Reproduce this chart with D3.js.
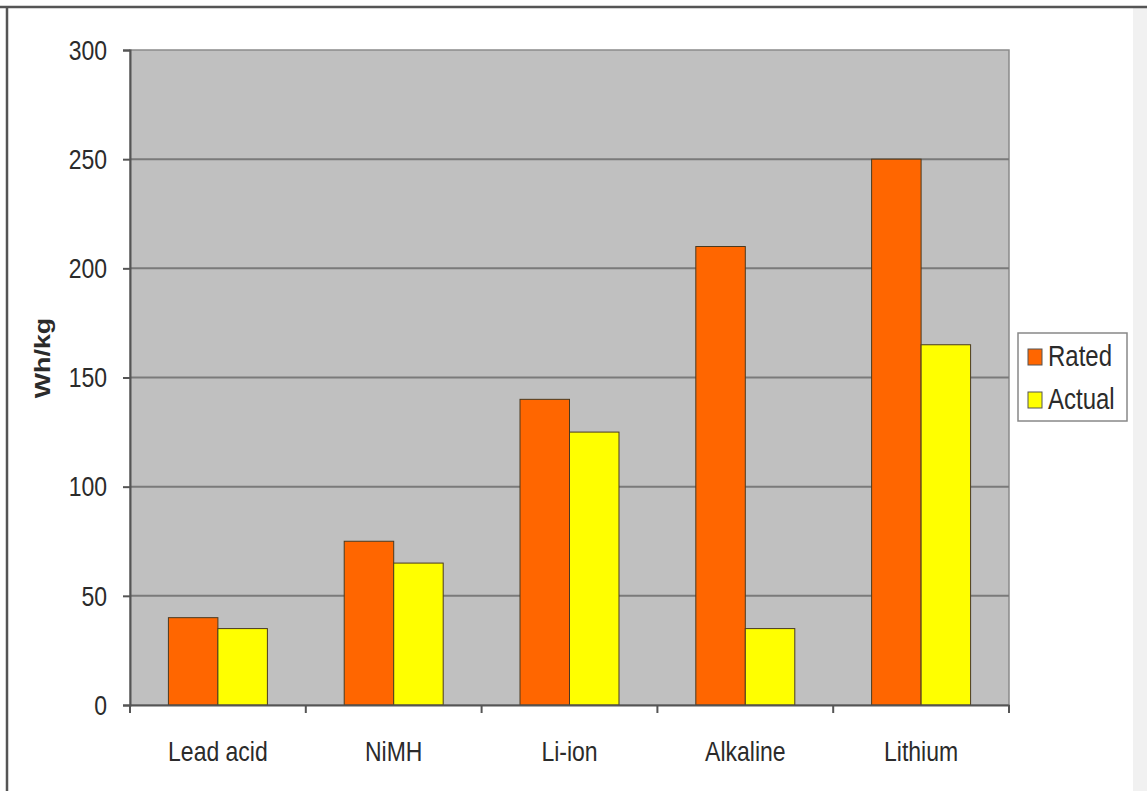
<!DOCTYPE html>
<html>
<head>
<meta charset="utf-8">
<script src="https://cdn.jsdelivr.net/npm/d3@7"></script>
<style>
  html, body { margin: 0; padding: 0; background: #ffffff; }
  svg { display: block; }
  text { font-family: Arial, "Liberation Sans", sans-serif; fill: #2b2b2b; }
</style>
</head>
<body>
<svg id="chart" width="1147" height="791"></svg>
<script>
// Energy density of battery chemistries
const categories = ["Lead acid", "NiMH", "Li-ion", "Alkaline", "Lithium"];
const seriesNames = ["Rated", "Actual"];
const ratedValues = [40, 75, 140, 210, 250];
const actualValues = [35, 65, 125, 35, 165];
const yTicks = [0, 50, 100, 150, 200, 250, 300];
const seriesColors = ["#ff6600", "#ffff00"];

const svg = d3.select("#chart");
const W = 1147, H = 791;
const plot = { left: 130, top: 50, right: 1009, bottom: 705 };
const ys = 1.22; // vertical stretch of lettering

// Page frame
svg.append("rect").attr("x", 1133).attr("y", 8).attr("width", W - 1133).attr("height", H - 8)
  .attr("fill", "#f1f1f1");
svg.append("line").attr("x1", 0).attr("x2", W).attr("y1", 7).attr("y2", 7)
  .attr("stroke", "#555").attr("stroke-width", 2.5);
svg.append("line").attr("x1", 7).attr("x2", 7).attr("y1", 6).attr("y2", H)
  .attr("stroke", "#555").attr("stroke-width", 2.5);

const x0 = d3.scaleBand().domain(categories).range([plot.left, plot.right]).paddingInner(0).paddingOuter(0);
const x1 = d3.scaleBand().domain(seriesNames).range([0, x0.bandwidth()]).paddingOuter(0.776).paddingInner(0);
const y = d3.scaleLinear().domain([0, 300]).range([plot.bottom, plot.top]);

// Plot background
svg.append("rect")
  .attr("x", plot.left).attr("y", plot.top)
  .attr("width", plot.right - plot.left).attr("height", plot.bottom - plot.top)
  .attr("fill", "#c0c0c0").attr("stroke", "#8a8a8a").attr("stroke-width", 1.5);

// Horizontal gridlines
svg.append("g").selectAll("line").data(yTicks.filter(d => d > 0 && d < 300)).join("line")
  .attr("x1", plot.left).attr("x2", plot.right)
  .attr("y1", d => y(d)).attr("y2", d => y(d))
  .attr("stroke", "#7a7a7a").attr("stroke-width", 2);

// Bars
const rows = categories.map((c, i) => ({ cat: c, vals: [ratedValues[i], actualValues[i]] }));
const groups = svg.append("g").selectAll("g").data(rows).join("g")
  .attr("transform", d => `translate(${x0(d.cat)},0)`);
groups.selectAll("rect").data(d => d.vals.map((v, j) => ({ key: seriesNames[j], v, j }))).join("rect")
  .attr("x", d => x1(d.key)).attr("width", x1.bandwidth())
  .attr("y", d => y(d.v)).attr("height", d => y(0) - y(d.v))
  .attr("fill", d => seriesColors[d.j])
  .attr("stroke", "#4a3a20").attr("stroke-width", 1);

// Y axis
const yAxis = svg.append("g").attr("transform", `translate(${plot.left},0)`)
  .call(d3.axisLeft(y).tickValues(yTicks).tickSize(7).tickPadding(16).tickFormat(d3.format("d")));
yAxis.select(".domain").attr("stroke", "#555").attr("stroke-width", 2);
yAxis.selectAll(".tick line").attr("stroke", "#555").attr("stroke-width", 2);
yAxis.selectAll(".tick text")
  .attr("font-size", 23).attr("fill", "#2b2b2b")
  .attr("dy", "0.33em")
  .attr("transform", `scale(1,${ys})`);

// X axis
const xAxis = svg.append("g").attr("transform", `translate(0,${plot.bottom})`)
  .call(d3.axisBottom(x0).tickSize(0).tickPadding(0));
xAxis.select(".domain").attr("stroke", "#555").attr("stroke-width", 2);
xAxis.selectAll(".tick text")
  .attr("font-size", 23).attr("fill", "#2b2b2b")
  .attr("y", 0).attr("dy", 0)
  .attr("transform", `translate(0,56) scale(1,${ys})`);
// Category boundary ticks
const boundaries = categories.map(c => x0(c)).concat([plot.right]);
svg.append("g").selectAll("line").data(boundaries).join("line")
  .attr("x1", d => d).attr("x2", d => d)
  .attr("y1", plot.bottom).attr("y2", plot.bottom + 8)
  .attr("stroke", "#555").attr("stroke-width", 2);

// Y axis title
svg.append("text")
  .attr("transform", `translate(50,358) rotate(-90) scale(${ys},1)`)
  .attr("text-anchor", "middle")
  .attr("font-size", 22).attr("font-weight", "bold").attr("fill", "#111")
  .text("Wh/kg");

// Legend
const legend = svg.append("g").attr("transform", "translate(1018,333)");
legend.append("rect").attr("width", 109).attr("height", 88)
  .attr("fill", "#ffffff").attr("stroke", "#888").attr("stroke-width", 1.5);
const items = legend.selectAll("g").data(seriesNames).join("g")
  .attr("transform", (d, i) => `translate(10,${16 + i * 43})`);
items.append("rect").attr("width", 14).attr("height", 16)
  .attr("fill", (d, i) => seriesColors[i]).attr("stroke", "#555").attr("stroke-width", 1);
items.append("text")
  .attr("transform", `translate(20,17) scale(1,${ys})`)
  .attr("font-size", 24).attr("fill", "#2b2b2b")
  .text(d => d);
</script>
</body>
</html>
